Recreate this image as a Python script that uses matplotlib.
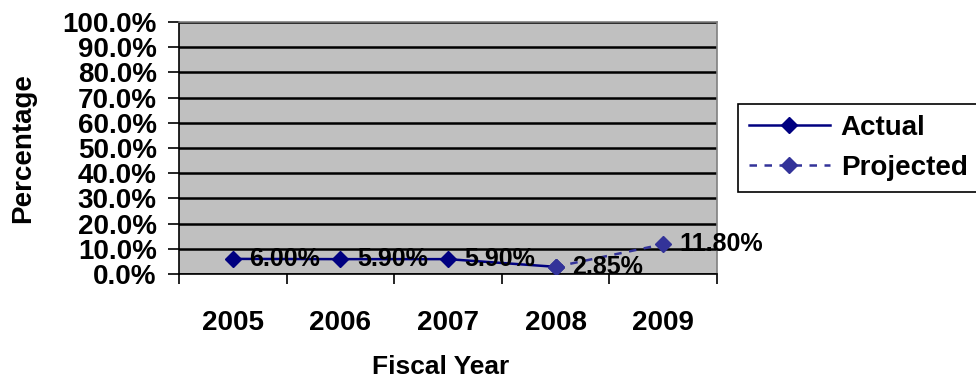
import matplotlib
matplotlib.use("Agg")
import matplotlib.pyplot as plt
from matplotlib.ticker import FixedLocator, FuncFormatter

#
##  Data
#
years = ["2005", "2006", "2007", "2008", "2009"]
actual_years = ["2005", "2006", "2007", "2008"]
actual = [6.00, 5.90, 5.90, 2.85]
projected_years = ["2008", "2009"]
projected = [2.85, 11.80]

plt.rcParams["font.family"] = ["Liberation Sans", "DejaVu Sans"]
plt.rcParams["font.weight"] = "bold"

fig = plt.figure(figsize=(9.76, 3.84), dpi=100)
ax = fig.add_axes([179 / 976, 110 / 384, 538 / 976, 252 / 384])
ax.set_facecolor("#C0C0C0")

pos = {y: i for i, y in enumerate(years)}
ax_x = [pos[y] for y in actual_years]
pr_x = [pos[y] for y in projected_years]

ax.plot(ax_x, actual, color="#000080", lw=1.8, marker="D", ms=8,
        label="Actual", zorder=3)
ax.plot(pr_x, projected, color="#333399", lw=1.8, ls=(0, (3, 3)),
        marker="D", ms=8, label="Projected", zorder=3)

# value labels to the right of each point
for x, v in zip(ax_x, actual):
    ax.annotate("%.2f%%" % v, (x, v), xytext=(12, 0), textcoords="offset points",
                va="center", ha="left", fontsize=18, fontweight="bold", zorder=4)
ax.annotate("%.2f%%" % projected[-1], (pr_x[-1], projected[-1]), xytext=(12, 0),
            textcoords="offset points", va="center", ha="left",
            fontsize=18, fontweight="bold", zorder=4)

# axes
ax.set_ylim(0, 100)
ax.set_xlim(-0.5, len(years) - 0.5)
ax.yaxis.set_major_locator(FixedLocator(range(0, 101, 10)))
ax.yaxis.set_major_formatter(FuncFormatter(lambda v, p: "%.1f%%" % v))
ax.yaxis.grid(True, color="black", lw=1.8)
ax.set_axisbelow(True)

ax.xaxis.set_major_locator(FixedLocator([i - 0.5 for i in range(len(years) + 1)]))
ax.xaxis.set_major_formatter(FuncFormatter(lambda v, p: ""))
ax.set_xticks(range(len(years)), years, minor=True)

ax.tick_params(axis="y", which="major", direction="out", length=8, width=1.2,
               labelsize=20, pad=8)
ax.tick_params(axis="x", which="major", direction="out", length=7, width=1.2)
ax.tick_params(axis="x", which="minor", length=0, labelsize=20, pad=26)

for s in ("top", "right"):
    ax.spines[s].set_color("#808080")
    ax.spines[s].set_linewidth(1.2)
for s in ("left", "bottom"):
    ax.spines[s].set_color("black")
    ax.spines[s].set_linewidth(1.2)

fig.text(23 / 976, 1 - 148 / 384, "Percentage", rotation=90, ha="center",
         va="center", fontsize=20, fontweight="bold")
fig.text(441 / 976, 1 - 367 / 384, "Fiscal Year", ha="center", va="center",
         fontsize=19, fontweight="bold")

leg = fig.legend(loc="center left", bbox_to_anchor=(738 / 976, 1 - 148 / 384),
                 fontsize=20, handlelength=2.9, labelspacing=0.5,
                 borderpad=0.4, handletextpad=0.4, borderaxespad=0,
                 fancybox=False, framealpha=1)
leg.get_frame().set_edgecolor("black")
leg.get_frame().set_linewidth(1.2)

fig.savefig("out.png", dpi=100)
